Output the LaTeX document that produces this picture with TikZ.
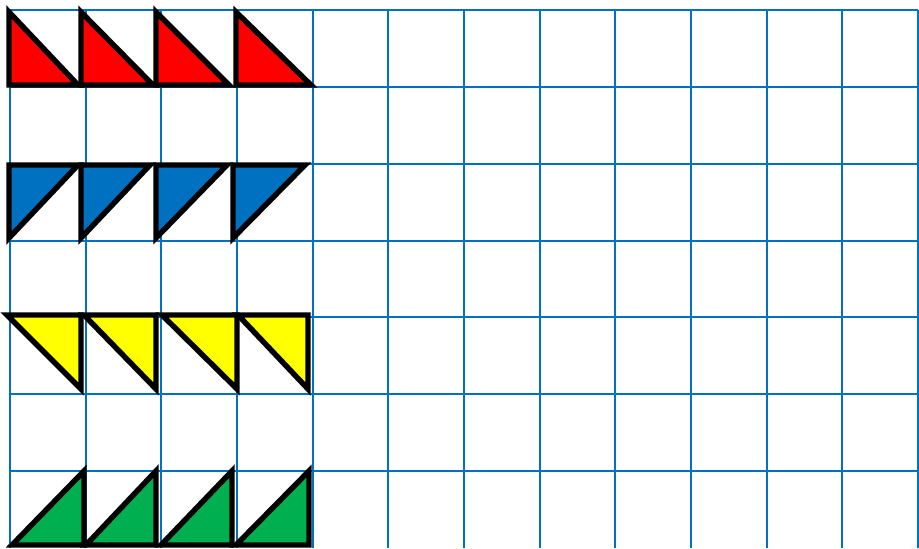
\documentclass[tikz,border=0pt]{standalone}
\usetikzlibrary{calc}
\definecolor{gridblue}{HTML}{0070C0}
\definecolor{trired}{HTML}{FF0000}
\definecolor{triblue}{HTML}{0070C0}
\definecolor{triyellow}{HTML}{FFFF00}
\definecolor{trigreen}{HTML}{00B050}

\begin{document}
\begin{tikzpicture}[
  x=0.02cm,
  y=-0.02cm,
  gridline/.style={draw=gridblue,line width=1.1pt},
  tri/.style={draw=black,line width=3.1pt,line join=miter}
]
\useasboundingbox (0,0) rectangle (919,548);

% ------------------------------------------------------------------
% Grid
% ------------------------------------------------------------------
\foreach \i in {0,...,12}
  \draw[gridline] ({10+75.67*\i},10) -- ({10+75.67*\i},548);
\foreach \j in {0,...,6}
  \draw[gridline] (10,{10+76.86*\j}) -- (918,{10+76.86*\j});

% ------------------------------------------------------------------
% Red row
% ------------------------------------------------------------------
\foreach \l/\r in {9/78,81/153,156/229,236/311}
  \draw[tri,fill=trired] (\l,12) -- (\l,85) -- (\r,85) -- cycle;

% ------------------------------------------------------------------
% Blue row
% ------------------------------------------------------------------
\foreach \l/\r in {9/78,81/150,156/227,233/305}
  \draw[tri,fill=triblue] (\l,165) -- (\r,165) -- (\l,238) -- cycle;

% ------------------------------------------------------------------
% Yellow row
% ------------------------------------------------------------------
\foreach \l/\r in {7/81,84/156,162/237,238/308}
  \draw[tri,fill=triyellow] (\l,315) -- (\r,315) -- (\r,389) -- cycle;

% ------------------------------------------------------------------
% Green row
% ------------------------------------------------------------------
\foreach \l/\r in {12/84,86/156,161/232,236/309}
  \draw[tri,fill=trigreen] (\l,545) -- (\r,545) -- (\r,471) -- cycle;

\end{tikzpicture}
\end{document}
